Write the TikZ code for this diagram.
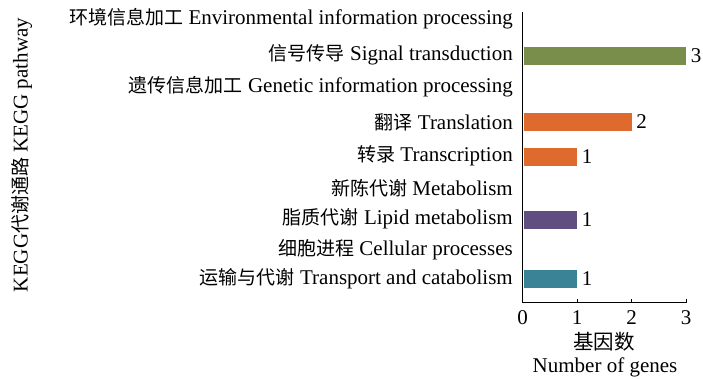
\documentclass[tikz,border=0pt]{standalone}
\usepackage{fontspec}
\setmainfont{Liberation Serif}
\newfontfamily\cjk{Noto Sans CJK SC}
\newcommand\zhtxt[1]{{\cjk\fontsize{19}{22}\selectfont #1}}
\definecolor{barGreen}{RGB}{120,142,74}
\definecolor{barOrange}{RGB}{222,106,46}
\definecolor{barPurple}{RGB}{96,78,128}
\definecolor{barTeal}{RGB}{58,130,150}
\begin{document}
\begin{tikzpicture}[x=1pt,y=-1pt,
  font=\fontsize{21}{24}\selectfont,
  lab/.style={anchor=east, inner sep=0pt},
  hbar/.style={draw=white, line width=0.6pt, anchor=west, minimum height=19pt, inner sep=0pt},
  val/.style={anchor=west, inner sep=0pt},
  ticklab/.style={anchor=center, inner sep=0pt}]
\useasboundingbox (0,0) rectangle (703,379);

% category labels
\node[lab] (env)  at (513,19)  {\zhtxt{环境信息加工} Environmental information processing};
\node[lab] (sig)  at (513,55)  {\zhtxt{信号传导} Signal transduction};
\node[lab] (gen)  at (513,87)  {\zhtxt{遗传信息加工} Genetic information processing};
\node[lab] (trl)  at (513,122) {\zhtxt{翻译} Translation};
\node[lab] (trc)  at (513,156) {\zhtxt{转录} Transcription};
\node[lab] (met)  at (513,188) {\zhtxt{新陈代谢} Metabolism};
\node[lab] (lip)  at (513,219) {\zhtxt{脂质代谢} Lipid metabolism};
\node[lab] (cel)  at (513,250) {\zhtxt{细胞进程} Cellular processes};
\node[lab] (tra)  at (513,279) {\zhtxt{运输与代谢} Transport and catabolism};

% axis title
\node[rotate=90, inner sep=0pt] (ytitle) at (22,155) {KEGG\zhtxt{代谢通路} KEGG pathway};

% axes
\coordinate (top) at (522.5,12);
\coordinate (o)   at (522.5,302);
\coordinate (xe)  at (687,302);
\draw[line width=0.9pt] (top) -- (o) -- (xe);
\foreach \v in {0,1,2,3} {
  \coordinate (t\v) at ({522.5+54.5*\v},302);
  \draw[line width=0.9pt] (t\v) -- ++(0,-3);
  \node[ticklab] (tl\v) at ({522.5+54.5*\v},318) {\v};
}
\node[inner sep=0pt] (xt1) at (604,342) {{\cjk\fontsize{20.5}{23}\selectfont 基因数}};
\node[inner sep=0pt] (xt2) at (605,367) {Number of genes};

% bars
\node[hbar, fill=barGreen,  minimum width=163.5pt] (b1) at (522.5,56)  {};
\node[hbar, fill=barOrange, minimum width=109pt]   (b2) at (522.5,122) {};
\node[hbar, fill=barOrange, minimum width=54.5pt]  (b3) at (522.5,156.5) {};
\node[hbar, fill=barPurple, minimum width=54.5pt]  (b4) at (522.5,220) {};
\node[hbar, fill=barTeal,   minimum width=54.5pt]  (b5) at (522.5,278.5) {};

% value labels
\node[val] (v1) at ([xshift=4pt]b1.east) {3};
\node[val] (v2) at ([xshift=4pt]b2.east) {2};
\node[val] (v3) at ([xshift=4pt]b3.east) {1};
\node[val] (v4) at ([xshift=4pt]b4.east) {1};
\node[val] (v5) at ([xshift=4pt]b5.east) {1};
\end{tikzpicture}
\end{document}
